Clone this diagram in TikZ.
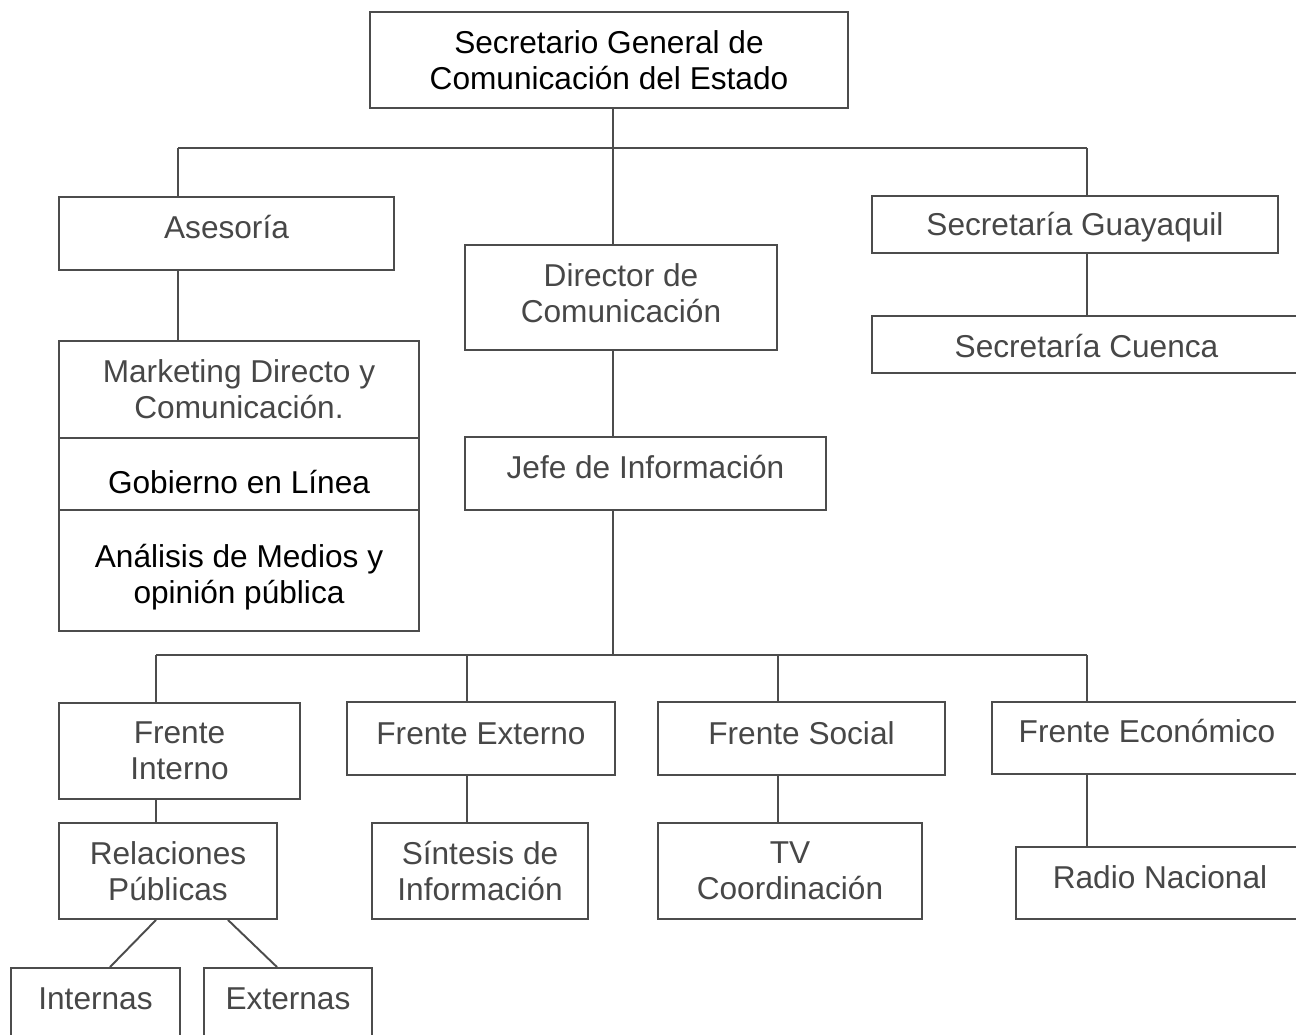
\documentclass[tikz,border=0pt]{standalone}
\usepackage{fontspec}
\setmainfont{Liberation Sans}
\usepackage{xcolor}
\usepackage{tikz}
\usetikzlibrary{positioning}

\begin{document}
\begin{tikzpicture}[x=0.02cm,y=-0.02cm,
  box/.style={draw=black!70, line width=1.1pt, inner sep=0pt, align=center,
    text=black!72, font=\fontsize{18}{20.5}\selectfont},
  dark/.style={text=black},
  tb/.style={text height=#1, text depth=0pt},
  link/.style={draw=black!70, line width=1.1pt}]

  % page frame
  \useasboundingbox (0,0) rectangle (1296,1035);
  \clip (0,0) rectangle (1296,1035);

  % upper levels
  \node[box,dark, minimum width=9.56cm, minimum height=1.92cm] (top) at (609,60)
    {Secretario General de\\Comunicación del Estado};
  \node[box,tb=0.19cm, minimum width=6.7cm, minimum height=1.46cm] (ases) at (226.5,233.5) {Asesoría};
  \node[box,text depth=0.18cm, minimum width=6.24cm, minimum height=2.1cm] (dir) at (621,297.5)
    {Director de\\Comunicación};
  \node[box,tb=0.45cm, minimum width=8.12cm, minimum height=1.14cm] (guay) at (1075,224.5) {Secretaría Guayaquil};
  \node[box,tb=0.51cm, minimum width=8.58cm, minimum height=1.14cm] (cuen) at (1086.5,344.5) {Secretaría Cuenca};

  % asesoria stack
  \node[box, minimum width=7.2cm, minimum height=1.94cm] (mkt) at (239,389.5)
    {Marketing Directo y\\Comunicación.};
  \node[box,dark,tb=0.77cm, minimum width=7.2cm, minimum height=1.44cm] (gob) at (239,474) {Gobierno en Línea};
  \node[box,dark,tb=1.31cm, minimum width=7.2cm, minimum height=2.42cm] (ana) at (239,570.5)
    {Análisis de Medios y\\opinión pública};

  \node[box,tb=0.19cm, minimum width=7.22cm, minimum height=1.46cm] (jefe) at (645.5,473.5) {Jefe de Información};

  % frentes
  \node[box, minimum width=4.82cm, minimum height=1.92cm] (fint) at (179.5,751) {Frente\\Interno};
  \node[box,tb=0.23cm, minimum width=5.36cm, minimum height=1.46cm] (fext) at (481,738.5) {Frente Externo};
  \node[box,tb=0.23cm, minimum width=5.74cm, minimum height=1.46cm] (fsoc) at (801.5,738.5) {Frente Social};
  \node[box,tb=0.17cm, minimum width=6.2cm, minimum height=1.44cm] (feco) at (1147,738) {Frente Económico};

  \node[box, minimum width=4.36cm, minimum height=1.92cm] (rp) at (168,871) {Relaciones\\Públicas};
  \node[box, minimum width=4.32cm, minimum height=1.92cm] (sint) at (480,871) {Síntesis de\\Información};
  \node[box, minimum width=5.28cm, minimum height=1.92cm] (tv) at (790,871) {TV\\Coordinación};
  \node[box,tb=0.21cm, minimum width=5.76cm, minimum height=1.44cm] (radio) at (1160,883) {Radio Nacional};

  \node[box,tb=0.21cm, minimum width=3.38cm, minimum height=1.44cm] (int) at (95.5,1004) {Internas};
  \node[box,tb=0.21cm, minimum width=3.36cm, minimum height=1.44cm] (ext) at (288,1004) {Externas};

  % bus joints
  \coordinate (j1) at (178,148);
  \coordinate (j2) at (613,148);
  \coordinate (j3) at (1087,148);
  \coordinate (k1) at (156,655);
  \coordinate (k2) at (467,655);
  \coordinate (k3) at (778,655);
  \coordinate (k4) at (1087,655);
  \coordinate (k5) at (613,655);

  % connectors
  \draw[link] (j1) -- (j3);
  \draw[link] (j2 |- top.south) -- (j2 |- dir.north);
  \draw[link] (j1) -- (j1 |- ases.north);
  \draw[link] (j3) -- (j3 |- guay.north);
  \draw[link] (j3 |- guay.south) -- (j3 |- cuen.north);
  \draw[link] (j1 |- ases.south) -- (j1 |- mkt.north);
  \draw[link] (j2 |- dir.south) -- (j2 |- jefe.north);
  \draw[link] (j2 |- jefe.south) -- (k5);
  \draw[link] (k1) -- (k4);
  \foreach \k/\n in {k1/fint,k2/fext,k3/fsoc,k4/feco}
    \draw[link] (\k) -- (\k |- \n.north);
  \foreach \k/\a/\b in {k1/fint/rp,k2/fext/sint,k3/fsoc/tv,k4/feco/radio}
    \draw[link] (\k |- \a.south) -- (\k |- \b.north);
  \draw[link] ([xshift=-0.24cm]rp.south) -- ([xshift=0.29cm]int.north);
  \draw[link] ([xshift=1.2cm]rp.south) -- ([xshift=-0.22cm]ext.north);

\end{tikzpicture}
\end{document}
